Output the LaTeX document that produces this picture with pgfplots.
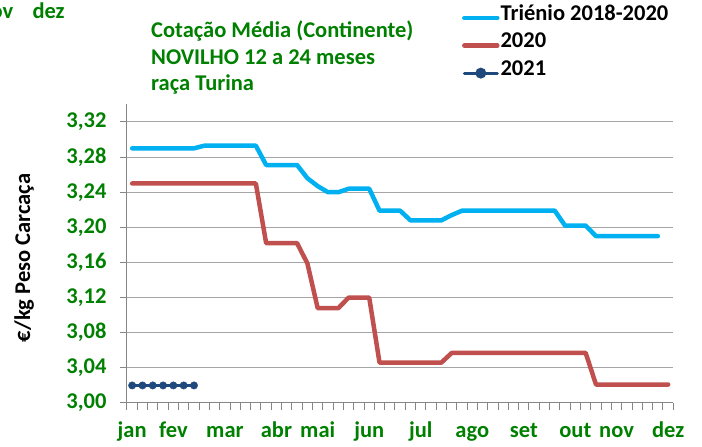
\documentclass[border=0pt]{standalone}
\usepackage{pgfplots}
\pgfplotsset{compat=1.18}
\usepackage{fontspec}
\setmainfont{Carlito}
\definecolor{cgreen}{RGB}{0,128,0}
\definecolor{cblue}{RGB}{0,176,240}
\definecolor{cred}{RGB}{192,80,77}
\definecolor{cnavy}{RGB}{31,73,125}
\definecolor{cgrid}{RGB}{165,165,165}
\definecolor{caxis}{RGB}{134,134,134}
\newcommand{\fs}{\bfseries\fontsize{22.5}{26.7}\selectfont}
\begin{document}
\begin{tikzpicture}
\useasboundingbox (0,0) rectangle (702pt,447pt);
\node[anchor=base east, inner sep=0pt, text=cgreen, font=\fs] at (13.5pt,428.7pt) {nov};
\node[anchor=base west, inner sep=0pt, text=cgreen, font=\fs] at (32.3pt,428.7pt) {dez};
\node[anchor=base west, inner sep=0pt, text=cgreen, font=\fs] at (151pt,409.3pt) {Cotação Média (Continente)};
\node[anchor=base west, inner sep=0pt, text=cgreen, font=\fs] at (151pt,382.7pt) {NOVILHO 12 a 24 meses};
\node[anchor=base west, inner sep=0pt, text=cgreen, font=\fs] at (151pt,356pt) {raça Turina};
\begin{axis}[
  at={(127pt,44pt)}, anchor=south west,
  scale only axis, width=546.3pt, height=299pt,
  xmin=0.5, xmax=53.5, ymin=3.00, ymax=3.3405,
  axis x line*=bottom, axis y line*=left,
  axis line style={draw=caxis, line width=1pt, -},
  tick align=outside, major tick length=7pt,
  tick style={draw=caxis, line width=1pt},
  xtick={0.5,1.5,...,53.5}, xticklabels={},
  extra x ticks={1,5,10,15,19,24,29,34,39,44,48,53},
  extra x tick labels={jan,fev,mar,abr,mai,jun,jul,ago,set,out,nov,dez},
  extra x tick style={major tick length=0pt, xticklabel style={anchor=base, yshift=-35pt}},
  ytick={3.00,3.04,3.08,3.12,3.16,3.20,3.24,3.28,3.32},
  ymajorgrids, grid style={draw=cgrid, line width=1pt},
  tick label style={font=\fs, text=cgreen},
  yticklabel style={xshift=-10pt, /pgf/number format/.cd, fixed, fixed zerofill, precision=2, use comma, assume math mode=true},
  ylabel={€/kg Peso Carcaça},
  ylabel style={at={(axis description cs:-0.1885,0.485)}, anchor=center, font=\fs, text=black},
  legend style={at={(axis description cs:0.613,1.338)}, anchor=north west, draw=none, fill=none, inner sep=0pt, row sep=4.6pt, font=\fs, nodes={inner sep=1pt, text height=16pt, text depth=5pt}, cells={anchor=west}},
  legend image code/.code={\draw[#1,mark=none] (0pt,-3.3pt) -- (33pt,-3.3pt);},
]
\addplot[cblue, line width=4.5pt, line join=round, line cap=round, mark=none] coordinates {
(1,3.290)(2,3.290)(3,3.290)(4,3.290)(5,3.290)(6,3.290)(7,3.290)
(8,3.293)(9,3.293)(10,3.293)(11,3.293)(12,3.293)(13,3.293)
(14,3.271)(15,3.271)(16,3.271)(17,3.271)
(18,3.256)(19,3.247)(20,3.240)(21,3.240)
(22,3.244)(23,3.244)(24,3.244)
(25,3.219)(26,3.219)(27,3.219)
(28,3.208)(29,3.208)(30,3.208)(31,3.208)
(32,3.214)
(33,3.219)(34,3.219)(35,3.219)(36,3.219)(37,3.219)(38,3.219)(39,3.219)(40,3.219)(41,3.219)(42,3.219)
(43,3.202)(44,3.202)(45,3.202)
(46,3.190)(47,3.190)(48,3.190)(49,3.190)(50,3.190)(51,3.190)(52,3.190)
};
\addlegendentry{Triénio 2018-2020}
\addplot[cred, line width=4.5pt, line join=round, line cap=round, mark=none] coordinates {
(1,3.250)(2,3.250)(3,3.250)(4,3.250)(5,3.250)(6,3.250)(7,3.250)(8,3.250)(9,3.250)(10,3.250)(11,3.250)(12,3.250)(13,3.250)
(14,3.182)(15,3.182)(16,3.182)(17,3.182)
(18,3.159)
(19,3.108)(20,3.108)(21,3.108)
(22,3.120)(23,3.120)(24,3.120)
(25,3.046)(26,3.046)(27,3.046)(28,3.046)(29,3.046)(30,3.046)(31,3.046)
(32,3.057)(33,3.057)(34,3.057)(35,3.057)(36,3.057)(37,3.057)(38,3.057)(39,3.057)(40,3.057)(41,3.057)(42,3.057)(43,3.057)(44,3.057)(45,3.057)
(46,3.021)(47,3.021)(48,3.021)(49,3.021)(50,3.021)(51,3.021)(52,3.021)(53,3.021)
};
\addlegendentry{2020}
\addplot[cnavy, line width=3pt, line cap=round, mark=*, mark size=3.7pt, mark options={line width=0.4pt},
  legend image code/.code={\draw[cnavy, line width=3pt, line cap=round] (0pt,-3.3pt) -- (33pt,-3.3pt);
    \fill[cnavy] (16.5pt,-3.3pt) circle[radius=3.9pt];}] coordinates {
(1,3.020)(2,3.020)(3,3.020)(4,3.020)(5,3.020)(6,3.020)(7,3.020)
};
\addlegendentry{2021}
\end{axis}
\end{tikzpicture}
\end{document}
